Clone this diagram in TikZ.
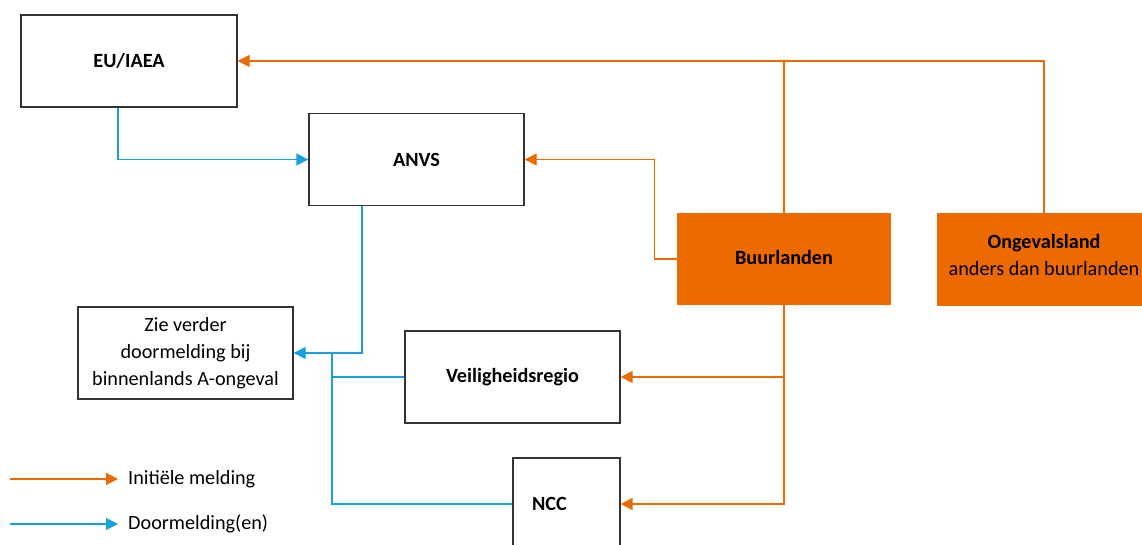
\documentclass[tikz,border=0pt]{standalone}
\usepackage{fontspec}
\setmainfont{Carlito}
\usetikzlibrary{arrows.meta}
\definecolor{roOrange}{HTML}{EC6A00}
\definecolor{roBlue}{HTML}{1AA0DC}
\definecolor{boxGray}{HTML}{333333}

\begin{document}
\begin{tikzpicture}[x=1pt, y=-1pt,
    font=\fontsize{20.2}{27}\selectfont,
    box/.style={draw=boxGray, line width=1.3pt, minimum width=215pt, minimum height=92pt, align=center, inner sep=0pt},
    landbox/.style={fill=roOrange, minimum width=214pt, minimum height=92pt, align=center, inner sep=0pt},
    initieel/.style={draw=roOrange, line width=1.2pt, -{Triangle[length=12pt, width=12pt]}},
    door/.style={draw=roBlue, line width=1.2pt, -{Triangle[length=12pt, width=12pt]}},
  ]
  \useasboundingbox (0,0) rectangle (1142,545);

  % organisaties
  \node[box, minimum width=216pt] (eu) at (129, 61) {\textbf{EU/IAEA}};
  \node[box] (anvs) at (416.5, 159.5) {\textbf{ANVS}};
  \node[box] (zie) at (185.5, 353) {Zie verder\\doormelding bij\\binnenlands A-ongeval};
  \node[box] (veil) at (512.5, 377) {\textbf{Veiligheidsregio}};
  \node[box, minimum width=107pt] (ncc) at (566.5, 504) {\textbf{NCC}\hspace*{34pt}};

  % landen
  \node[landbox] (buur) at (784, 259) {\raisebox{4pt}{\textbf{Buurlanden}}};
  \node[landbox] (onge) at (1044, 259.5) {\textbf{Ongevalsland}\\anders dan buurlanden\rule[-10pt]{0pt}{1pt}};

  % initiele melding
  \draw[initieel] (buur.north) |- (eu.east);
  \draw[draw=roOrange, line width=1.2pt] (onge.north) |- (buur.north |- eu.east);
  \draw[initieel] (buur.west) -- ++(-22, 0) |- (anvs.east);
  \draw[initieel] (buur.south) |- (ncc.east);
  \draw[initieel] (buur.south |- veil.east) -- (veil.east);

  % doormelding
  \draw[door] ([xshift=-11pt]eu.south) |- (anvs.west);
  \draw[door] ([xshift=-54.5pt]anvs.south) |- (zie.east);
  \coordinate (split) at (332, 353);
  \draw[draw=roBlue, line width=1.2pt] (veil.west) -- (veil.west -| split);
  \draw[draw=roBlue, line width=1.2pt] (ncc.west) -| (split);

  % legenda
  \coordinate (ini a) at (10, 479);
  \coordinate (ini b) at (118, 479);
  \coordinate (dm a) at (10, 524);
  \coordinate (dm b) at (118, 524);
  \draw[initieel] (ini a) -- (ini b);
  \draw[door] (dm a) -- (dm b);
  \node[right, inner sep=0pt, xshift=10pt] (ini) at (ini b) {Initiële melding};
  \node[right, inner sep=0pt, xshift=10pt] (dm) at (dm b) {Doormelding(en)};
\end{tikzpicture}
\end{document}
